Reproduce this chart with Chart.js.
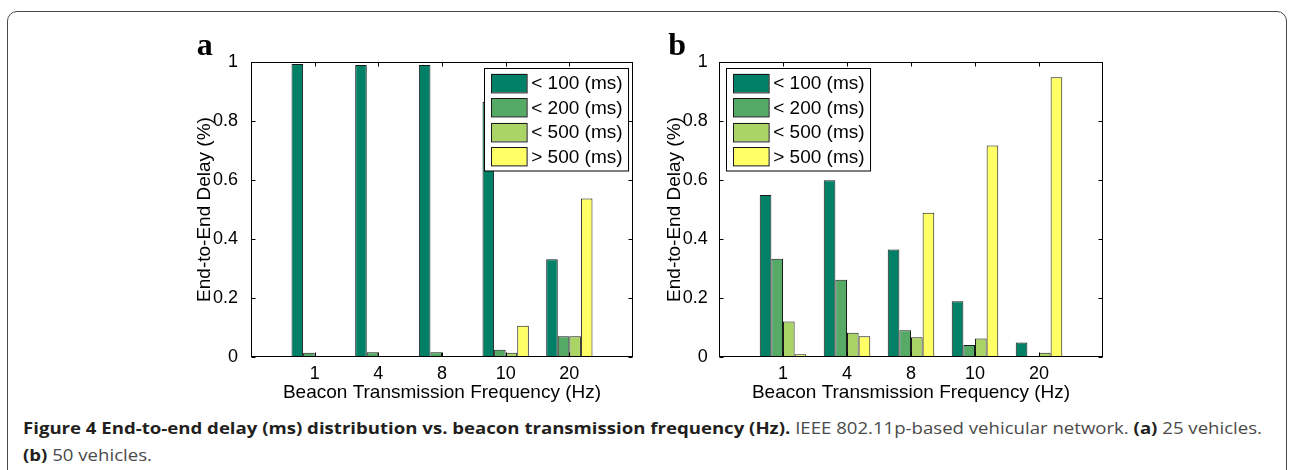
<!DOCTYPE html>
<html>
<head>
<meta charset="utf-8">
<script src="https://cdn.jsdelivr.net/npm/chart.js@4.4.1/dist/chart.umd.min.js"></script>
<style>
  html, body { margin: 0; padding: 0; background: #fff; }
  body { width: 1290px; height: 470px; position: relative; overflow: hidden; }
  #frame { position: absolute; left: 7px; top: 11px; width: 1280px; height: 480px;
           border: 1.5px solid #4a4a4a; border-radius: 10px; box-sizing: border-box; }
  .panel { position: absolute; top: 20px; width: 500px; height: 395px; }
  #pa { left: 150px; }
  #pb { left: 620px; }
  .cap { position: absolute; left: 23px; white-space: nowrap; display: inline-block;
         font-family: 'Open Sans', sans-serif; font-size: 15.5px; line-height: 20px;
         color: #4a4a4a; transform-origin: 0 0; }
  .cap b { color: #231f20; font-weight: 700; }
  #cap1 { top: 418px; }
  #cap2 { top: 445px; }
</style>
</head>
<body>
<div id="frame"></div>
<div class="panel" id="pa"><canvas id="ca" width="500" height="395"></canvas></div>
<div class="panel" id="pb"><canvas id="cb" width="500" height="395"></canvas></div>
<div class="cap" id="cap1"><b>Figure 4 End-to-end delay (ms) distribution vs. beacon transmission frequency (Hz).</b> IEEE 802.11p-based vehicular network. <b>(a)</b> 25 vehicles.</div>
<div class="cap" id="cap2"><b>(b)</b> 50 vehicles.</div>

<script>
// Beacon transmission frequencies (Hz)
const FREQ_LABELS = ['1', '4', '8', '10', '20'];
const SERIES_NAMES = ['< 100 (ms)', '< 200 (ms)', '< 500 (ms)', '> 500 (ms)'];
const SERIES_COLORS = ['rgb(0,128,102)', 'rgb(85,170,102)', 'rgb(170,213,102)', 'rgb(255,255,102)'];
const Y_TICKS = [0, 0.2, 0.4, 0.6, 0.8, 1];

// (a) 25 vehicles: share of packets per delay bin
const A_LT100 = [0.993, 0.990, 0.990, 0.864, 0.331];
const A_LT200 = [0.014, 0.016, 0.016, 0.025, 0.070];
const A_LT500 = [0, 0, 0, 0.014, 0.070];
const A_GT500 = [0, 0, 0, 0.106, 0.537];

// (b) 50 vehicles
const B_LT100 = [0.549, 0.599, 0.364, 0.189, 0.049];
const B_LT200 = [0.333, 0.262, 0.091, 0.041, 0];
const B_LT500 = [0.120, 0.082, 0.067, 0.063, 0.014];
const B_GT500 = [0.009, 0.070, 0.489, 0.717, 0.948];

const AXIS_FONT = 'Liberation Sans';

// Category axis padded with an empty slot on each side so the groups sit at 1..5 of 0..6
const paddedLabels = ['', ...FREQ_LABELS, ''];
const pad = arr => [null, ...arr, null];

// Frame, inward tick marks, boxed legend and panel letter drawn on top of the bars
const matlabAxes = {
  id: 'matlabAxes',
  afterDatasetsDraw(chart, args, opts) {
    const { ctx, chartArea: a, scales: { x, y } } = chart;
    ctx.save();
    ctx.strokeStyle = '#000';
    ctx.lineWidth = 1;
    const L = Math.round(a.left) + 0.5, R = Math.round(a.right) - 0.5;
    const T = Math.round(a.top) + 0.5, B = Math.round(a.bottom) - 0.5;
    const tl = 4;
    ctx.beginPath();
    for (let i = 1; i <= FREQ_LABELS.length; i++) {
      const px = Math.round(x.getPixelForValue(i)) + 0.5;
      ctx.moveTo(px, B); ctx.lineTo(px, B - tl);
      ctx.moveTo(px, T); ctx.lineTo(px, T + tl);
    }
    Y_TICKS.forEach(v => {
      const py = Math.round(y.getPixelForValue(v)) + 0.5;
      ctx.moveTo(L, py); ctx.lineTo(L + tl, py);
      ctx.moveTo(R, py); ctx.lineTo(R - tl, py);
    });
    ctx.stroke();
    ctx.strokeRect(L, T, R - L, B - T);

    // legend box
    ctx.font = '19px "' + AXIS_FONT + '"';
    const sw = 35.6, sh = 18.4, inset = 6.7, gap = 4.4, pitch = 24.5, topIn = 5.3;
    const textW = Math.max(...chart.data.datasets.map(d => ctx.measureText(d.label).width));
    const bw = inset + sw + gap + textW + 6;
    const bh = topIn * 2 + pitch * (chart.data.datasets.length - 1) + sh;
    const bx = opts.legendSide === 'right' ? Math.round(a.right - 5 - bw) + 0.5 : Math.round(a.left + 7) + 0.5;
    const by = Math.round(a.top + 6) + 0.5;
    ctx.fillStyle = '#fff';
    ctx.fillRect(bx, by, bw, bh);
    ctx.strokeStyle = '#000';
    ctx.strokeRect(bx, by, bw, bh);
    chart.data.datasets.forEach((d, i) => {
      const sx = bx + inset, sy = by + topIn + i * pitch;
      ctx.fillStyle = d.backgroundColor;
      ctx.fillRect(sx, sy, sw, sh);
      ctx.strokeStyle = '#1a1a1a';
      ctx.strokeRect(Math.round(sx) + 0.5, Math.round(sy) + 0.5, sw, sh);
      ctx.fillStyle = '#000';
      ctx.textBaseline = 'middle';
      ctx.textAlign = 'left';
      ctx.fillText(d.label, sx + sw + gap, sy + sh / 2 + 1);
    });

    // panel letter
    ctx.font = 'bold 32px "Liberation Serif"';
    ctx.fillStyle = '#000';
    ctx.textBaseline = 'alphabetic';
    ctx.textAlign = 'left';
    ctx.fillText(opts.letter, opts.letterX, opts.letterY);
    ctx.restore();
  }
};

function makeChart(canvasId, series, cfg) {
  const datasets = series.map((vals, i) => ({
    label: SERIES_NAMES[i],
    data: pad(vals),
    backgroundColor: SERIES_COLORS[i],
    borderColor: '#1a1a1a',
    borderWidth: 1,
    borderSkipped: false,
    categoryPercentage: 0.727,
    barPercentage: 1.0
  }));
  return new Chart(document.getElementById(canvasId), {
    type: 'bar',
    data: { labels: paddedLabels, datasets },
    plugins: [matlabAxes],
    options: {
      responsive: false,
      animation: false,
      devicePixelRatio: 1,
      layout: { padding: { top: 42, right: 17, bottom: 11, left: 0 } },
      plugins: {
        legend: { display: false },
        tooltip: { enabled: false },
        matlabAxes: { letter: cfg.letter, letterX: cfg.letterX, letterY: 35, legendSide: cfg.legendSide }
      },
      scales: {
        x: {
          type: 'category',
          offset: false,
          grid: { display: false },
          border: { display: false },
          ticks: { color: '#000', font: { family: AXIS_FONT, size: 18 }, padding: -2,
                    autoSkip: false, maxRotation: 0 },
          title: { display: true, text: 'Beacon Transmission Frequency (Hz)', color: '#000',
                   font: { family: AXIS_FONT, size: 19 }, padding: { top: 0, bottom: 0 } },
          afterFit: s => { s.height = 47; }
        },
        y: {
          min: Y_TICKS[0],
          max: Y_TICKS[Y_TICKS.length - 1],
          grid: { display: false },
          border: { display: false },
          ticks: { stepSize: 0.2, color: '#000', font: { family: AXIS_FONT, size: 18 },
                   padding: cfg.yTickPad, callback: v => String(+Number(v).toFixed(1)) },
          title: { display: true, text: 'End-to-End Delay (%)', color: '#000',
                   font: { family: AXIS_FONT, size: 19 }, padding: { top: 43.6, bottom: 0 } },
          afterFit: s => { s.width = cfg.yWidth; }
        }
      }
    }
  });
}

makeChart('ca', [A_LT100, A_LT200, A_LT500, A_GT500],
          { letter: 'a', letterX: 46.7, legendSide: 'right', yWidth: 101, yTickPad: 5 });
makeChart('cb', [B_LT100, B_LT200, B_LT500, B_GT500],
          { letter: 'b', letterX: 48.3, legendSide: 'left', yWidth: 99, yTickPad: 3.3 });

// Condense the caption lines to the figure width
(function fitCaption() {
  const c1 = document.getElementById('cap1'), c2 = document.getElementById('cap2');
  const k = 1239 / c1.getBoundingClientRect().width;
  c1.style.transform = 'scaleX(' + k + ')';
  c2.style.transform = 'scaleX(' + k + ')';
})();
</script>
</body>
</html>
